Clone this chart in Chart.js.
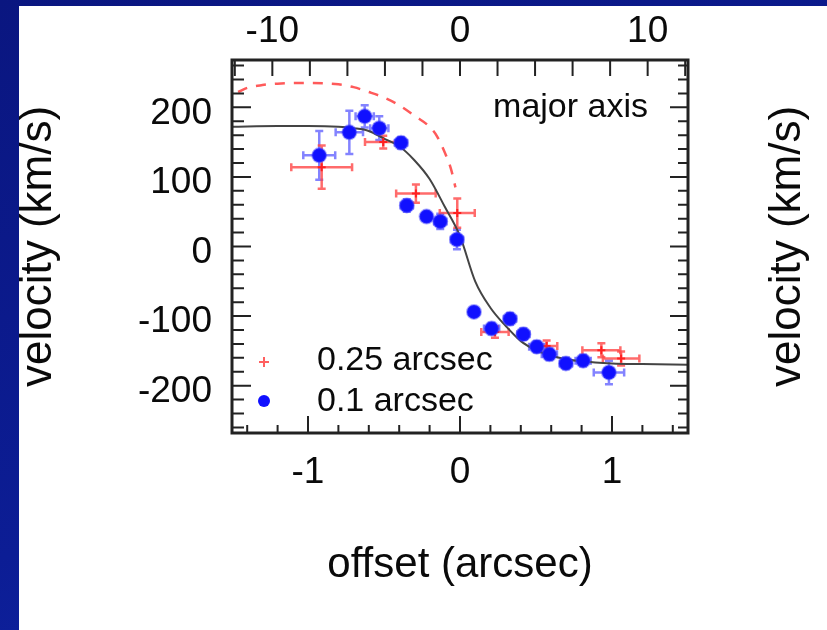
<!DOCTYPE html>
<html>
<head>
<meta charset="utf-8">
<script src="https://cdn.jsdelivr.net/npm/chart.js@4/dist/chart.umd.min.js"></script>
<style>
  html, body { margin: 0; padding: 0; }
  body {
    width: 827px; height: 630px; overflow: hidden; position: relative;
    background: linear-gradient(160deg, #0a1680 0%, #0c1d95 60%, #1026a8 100%);
  }
  #panel { position: absolute; left: 19px; top: 6px; right: 0; bottom: 0; background: #fff; }
  #wrap { position: absolute; left: 0; top: 0; width: 827px; height: 630px; }
</style>
</head>
<body>
<div id="panel"></div>
<div id="wrap"><canvas id="chart" width="827" height="630"></canvas></div>
<script>
// --- DATA ---
// 0.1 arcsec sampling (blue)
const fineOffset    = [-0.926, -0.728, -0.627, -0.531, -0.388, -0.35, -0.22, -0.13, -0.02, 0.092, 0.208, 0.329, 0.417, 0.505, 0.588, 0.697, 0.81, 0.98];
const fineVel       = [131, 164, 187, 170, 149, 59, 43, 36, 10, -94, -118, -104, -126, -144, -155, -168, -164, -181];
const fineOffsetErr = [0.105, 0.09, 0.06, 0.06, 0.04, 0.04, 0.03, 0.04, 0.04, 0.03, 0.05, 0.04, 0.04, 0.05, 0.05, 0.04, 0.05, 0.1];
const fineVelErr    = [35, 31, 16, 17, 8, 9, 6, 11, 14, 6, 8, 8, 8, 8, 8, 8, 8, 17];

// 0.25 arcsec sampling (red)
const coarseOffset    = [-0.91, -0.505, -0.29, -0.018, 0.23, 0.57, 0.93, 1.06];
const coarseVel       = [114, 150, 76, 48, -123, -143, -149, -161];
const coarseOffsetErr = [0.2, 0.12, 0.13, 0.115, 0.09, 0.07, 0.125, 0.12];
const coarseVelErr    = [31, 9, 13, 21, 8, 8, 10, 10];

// model curves
const modelOffset = [-1.5, -1.2, -1.0, -0.8, -0.7, -0.6, -0.5, -0.4, -0.3, -0.2, -0.1, 0, 0.1, 0.2, 0.3, 0.4, 0.5, 0.6, 0.7, 0.8, 1.0, 1.2, 1.5];
const modelVel    = [172, 173, 173, 172, 170, 166, 155, 144, 124, 97, 57, 15, -50, -88, -114, -136, -149, -157, -162, -165, -168, -169, -170];
const dashOffset  = [-1.46, -1.4, -1.3, -1.2, -1.0, -0.8, -0.7, -0.6, -0.5, -0.4, -0.3, -0.2, -0.15, -0.1, -0.06, -0.03];
const dashVel     = [222, 228, 232, 234, 235, 233, 229, 222, 214, 203, 188, 172, 158, 135, 112, 85];

// tick labels
const xTicks   = [-1, 0, 1];
const xTopTicks = [-10, 0, 10];
const yTicks   = [-200, -100, 0, 100, 200];

const FONT = "'Liberation Sans', Arial, sans-serif";
const toPoints = (xs, ys) => xs.map((v, i) => ({ x: v, y: ys[i] }));
const setTicks = (vals) => (s) => { s.ticks = vals.map(v => ({ value: v })); };

// --- PLUGINS ---
const errorBars = {
    id: 'errorBars',
    beforeDatasetsDraw(chart) {
        const { ctx, scales: { x, y } } = chart;
        chart.data.datasets.forEach(ds => {
            if (!ds.errX) return;
            ctx.save();
            ctx.strokeStyle = ds.errColor;
            ctx.lineWidth = 2.5;
            ds.data.forEach((p, i) => {
                const px = x.getPixelForValue(p.x), py = y.getPixelForValue(p.y);
                const x0 = x.getPixelForValue(p.x - ds.errX[i]), x1 = x.getPixelForValue(p.x + ds.errX[i]);
                const y0 = y.getPixelForValue(p.y - ds.errY[i]), y1 = y.getPixelForValue(p.y + ds.errY[i]);
                ctx.beginPath();
                ctx.moveTo(x0, py); ctx.lineTo(x1, py);
                ctx.moveTo(px, y0); ctx.lineTo(px, y1);
                ctx.moveTo(x0, py - 4); ctx.lineTo(x0, py + 4);
                ctx.moveTo(x1, py - 4); ctx.lineTo(x1, py + 4);
                ctx.moveTo(px - 4, y0); ctx.lineTo(px + 4, y0);
                ctx.moveTo(px - 4, y1); ctx.lineTo(px + 4, y1);
                ctx.stroke();
            });
            ctx.restore();
        });
    }
};

const frameAndText = {
    id: 'frameAndText',
    afterDraw(chart) {
        const { ctx, chartArea: a, scales: { x, x2, y } } = chart;
        ctx.save();
        ctx.strokeStyle = '#222';

        // inward tick marks
        ctx.lineWidth = 2;
        ctx.beginPath();
        for (let v = -1.4; v <= 1.41; v += 0.2) {
            const px = x.getPixelForValue(v);
            const len = Math.abs(v - Math.round(v)) < 0.01 ? 17 : 8;
            ctx.moveTo(px, a.bottom); ctx.lineTo(px, a.bottom - len);
        }
        for (let v = -12; v <= 12; v += 2) {
            const px = x2.getPixelForValue(v);
            ctx.moveTo(px, a.top); ctx.lineTo(px, a.top + 16);
        }
        for (let v = -260; v <= 260; v += 20) {
            const py = y.getPixelForValue(v);
            const major = v % 100 === 0;
            ctx.moveTo(a.left, py); ctx.lineTo(a.left + (major ? 19 : 12), py);
            ctx.moveTo(a.right, py); ctx.lineTo(a.right - (major ? 18 : 10), py);
        }
        ctx.stroke();

        // frame
        ctx.lineWidth = 3;
        ctx.strokeRect(a.left, a.top, a.right - a.left, a.bottom - a.top);

        // annotation
        ctx.fillStyle = '#0a0a0a';
        ctx.font = `34px ${FONT}`;
        ctx.textAlign = 'right';
        ctx.textBaseline = 'alphabetic';
        ctx.fillText('major axis', a.right - 40, a.top + 57);

        // legend
        ctx.textAlign = 'left';
        ctx.fillText('0.25 arcsec', a.left + 85, a.top + 310);
        ctx.fillText('0.1 arcsec', a.left + 85, a.top + 351);
        ctx.strokeStyle = '#ff6060';
        ctx.lineWidth = 2;
        ctx.beginPath();
        ctx.moveTo(a.left + 27, a.top + 302); ctx.lineTo(a.left + 37, a.top + 302);
        ctx.moveTo(a.left + 32, a.top + 297); ctx.lineTo(a.left + 32, a.top + 307);
        ctx.stroke();
        ctx.fillStyle = '#1010ff';
        ctx.beginPath();
        ctx.arc(a.left + 32, a.top + 341, 6, 0, Math.PI * 2);
        ctx.fill();

        // right-hand axis title
        ctx.fillStyle = '#0a0a0a';
        ctx.font = `44px ${FONT}`;
        ctx.textAlign = 'center';
        ctx.translate(800, (a.top + a.bottom) / 2);
        ctx.rotate(-Math.PI / 2);
        ctx.fillText('velocity (km/s)', 0, 0);
        ctx.restore();
    }
};

// --- CHART ---
new Chart(document.getElementById('chart'), {
    type: 'scatter',
    data: {
        datasets: [
            {
                label: '0.1 arcsec',
                data: toPoints(fineOffset, fineVel),
                errX: fineOffsetErr, errY: fineVelErr, errColor: 'rgba(90,90,255,0.75)',
                pointRadius: 7, backgroundColor: '#1010ff',
                borderColor: 'rgba(60,60,255,0.45)', borderWidth: 2
            },
            {
                label: '0.25 arcsec',
                data: toPoints(coarseOffset, coarseVel),
                errX: coarseOffsetErr, errY: coarseVelErr, errColor: 'rgba(255,70,70,0.8)',
                pointStyle: 'cross', pointRadius: 4, borderColor: '#ff2020', borderWidth: 2
            },
            {
                label: 'model',
                data: toPoints(modelOffset, modelVel),
                showLine: true, pointRadius: 0, borderColor: '#444', borderWidth: 2,
                cubicInterpolationMode: 'monotone'
            },
            {
                label: 'model (0.25)',
                data: toPoints(dashOffset, dashVel),
                showLine: true, pointRadius: 0, borderColor: '#ff5a5a', borderWidth: 2.5,
                borderDash: [10, 9], cubicInterpolationMode: 'monotone'
            }
        ]
    },
    options: {
        responsive: false,
        animation: false,
        events: [],
        layout: { padding: { left: 0, top: 0, right: 139, bottom: 0 } },
        plugins: { legend: { display: false }, tooltip: { enabled: false } },
        scales: {
            x: {
                type: 'linear', position: 'bottom', min: -1.5, max: 1.5,
                afterBuildTicks: setTicks(xTicks),
                afterFit: s => { s.height = 197; },
                grid: { display: false, drawTicks: false }, border: { display: false },
                ticks: { color: '#0a0a0a', font: { family: FONT, size: 37 }, padding: 18, callback: v => String(v) },
                title: { display: true, text: 'offset (arcsec)', color: '#0a0a0a', font: { family: FONT, size: 42 }, padding: { top: 0, bottom: 39 } }
            },
            x2: {
                type: 'linear', position: 'top', min: -12.15, max: 12.15,
                afterBuildTicks: setTicks(xTopTicks),
                afterFit: s => { s.height = 60; },
                grid: { display: false, drawTicks: false }, border: { display: false },
                ticks: { color: '#0a0a0a', font: { family: FONT, size: 37 }, padding: 6, callback: v => String(v) }
            },
            y: {
                type: 'linear', position: 'left', min: -268, max: 268,
                afterBuildTicks: setTicks(yTicks),
                afterFit: s => { s.width = 232; },
                grid: { display: false, drawTicks: false }, border: { display: false },
                ticks: { color: '#0a0a0a', font: { family: FONT, size: 37 }, padding: 20, labelOffset: 6, callback: v => String(v) },
                title: { display: true, text: 'velocity (km/s)', color: '#0a0a0a', font: { family: FONT, size: 44 }, padding: { top: 12, bottom: 0 } }
            }
        }
    },
    plugins: [errorBars, frameAndText]
});
</script>
</body>
</html>
